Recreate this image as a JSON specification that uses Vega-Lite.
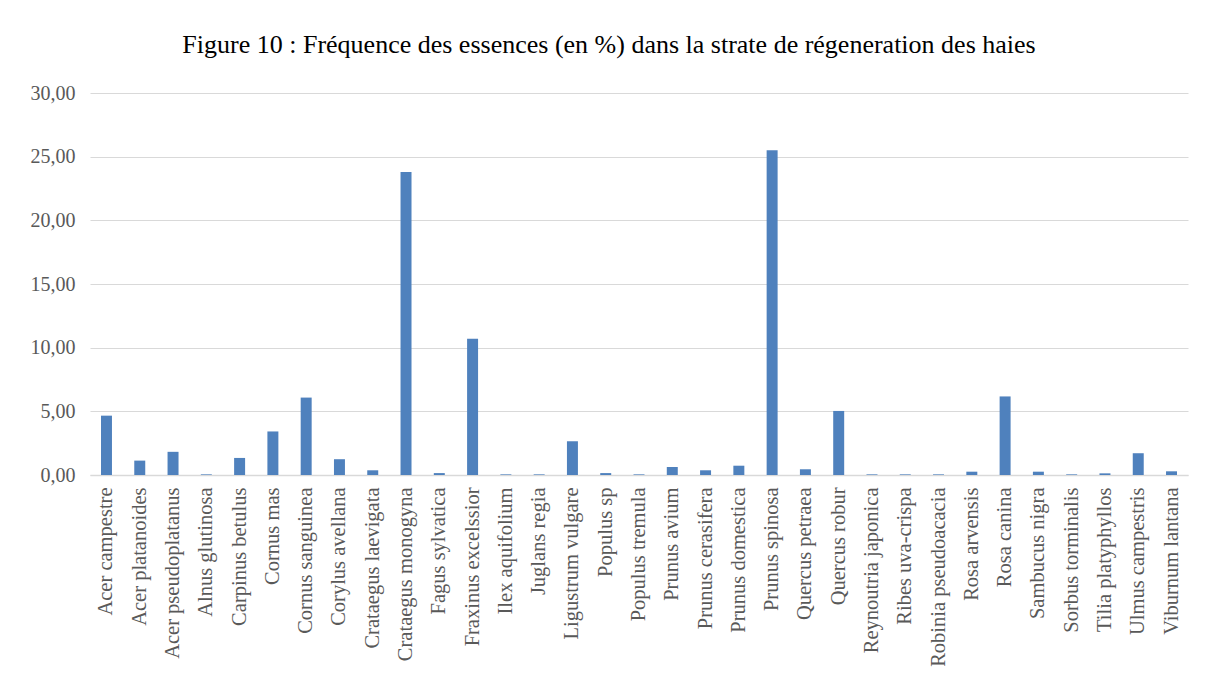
{
  "$schema": "https://vega.github.io/schema/vega-lite/v6.json",
  "width": 1098,
  "height": 382,
  "autosize": {"type": "none"},
  "padding": {"left": 90, "top": 93, "right": 22, "bottom": 208},
  "background": "#ffffff",
  "config": {
    "view": {"stroke": null},
    "font": "Liberation Serif",
    "locale": {"number": {"decimal": ",", "thousands": " ", "grouping": [3], "currency": ["", " €"]}}
  },
  "title": {
    "text": "Figure 10 : Fréquence des essences (en %) dans la strate de régeneration des haies",
    "font": "Liberation Serif",
    "fontSize": 26,
    "fontWeight": "normal",
    "color": "#000000",
    "anchor": "middle",
    "frame": "bounds",
    "offset": 25
  },
  "data": {
    "values": [
      {"essence": "Acer campestre", "freq": 4.66},
      {"essence": "Acer platanoides", "freq": 1.13},
      {"essence": "Acer pseudoplatanus", "freq": 1.82},
      {"essence": "Alnus glutinosa", "freq": 0.05},
      {"essence": "Carpinus betulus", "freq": 1.34},
      {"essence": "Cornus mas", "freq": 3.42},
      {"essence": "Cornus sanguinea", "freq": 6.08},
      {"essence": "Corylus avellana", "freq": 1.24},
      {"essence": "Crataegus laevigata", "freq": 0.37},
      {"essence": "Crataegus monogyna", "freq": 23.8},
      {"essence": "Fagus sylvatica", "freq": 0.15},
      {"essence": "Fraxinus excelssior", "freq": 10.7},
      {"essence": "Ilex aquifolium", "freq": 0.05},
      {"essence": "Juglans regia", "freq": 0.05},
      {"essence": "Ligustrum vulgare", "freq": 2.65},
      {"essence": "Populus sp", "freq": 0.15},
      {"essence": "Populus tremula", "freq": 0.05},
      {"essence": "Prunus avium", "freq": 0.63},
      {"essence": "Prunus cerasifera", "freq": 0.37},
      {"essence": "Prunus domestica", "freq": 0.73},
      {"essence": "Prunus spinosa", "freq": 25.5},
      {"essence": "Quercus petraea", "freq": 0.45},
      {"essence": "Quercus robur", "freq": 5.03},
      {"essence": "Reynoutria japonica", "freq": 0.05},
      {"essence": "Ribes uva-crispa", "freq": 0.05},
      {"essence": "Robinia pseudoacacia", "freq": 0.05},
      {"essence": "Rosa arvensis", "freq": 0.26},
      {"essence": "Rosa canina", "freq": 6.17},
      {"essence": "Sambucus nigra", "freq": 0.26},
      {"essence": "Sorbus torminalis", "freq": 0.05},
      {"essence": "Tilia platyphyllos", "freq": 0.13},
      {"essence": "Ulmus campestris", "freq": 1.71},
      {"essence": "Viburnum lantana", "freq": 0.29}
    ]
  },
  "mark": {"type": "bar", "color": "#4F81BD"},
  "encoding": {
    "x": {
      "field": "essence",
      "type": "nominal",
      "sort": null,
      "scale": {"paddingInner": 0.67, "paddingOuter": 0.33},
      "axis": {
        "title": null,
        "labelAngle": -90,
        "labelFont": "Liberation Serif",
        "labelFontSize": 20.5,
        "labelColor": "#595959",
        "labelPadding": 12,
        "ticks": false,
        "domainColor": "#D9D9D9",
        "domainWidth": 1.5,
        "labelLimit": 300
      }
    },
    "y": {
      "field": "freq",
      "type": "quantitative",
      "scale": {"domain": [0, 30]},
      "axis": {
        "title": null,
        "values": [0, 5, 10, 15, 20, 25, 30],
        "format": ".2f",
        "labelFont": "Liberation Serif",
        "labelFontSize": 20,
        "labelColor": "#595959",
        "labelPadding": 15,
        "ticks": false,
        "domain": false,
        "gridColor": "#D9D9D9",
        "gridWidth": 1
      }
    }
  }
}
